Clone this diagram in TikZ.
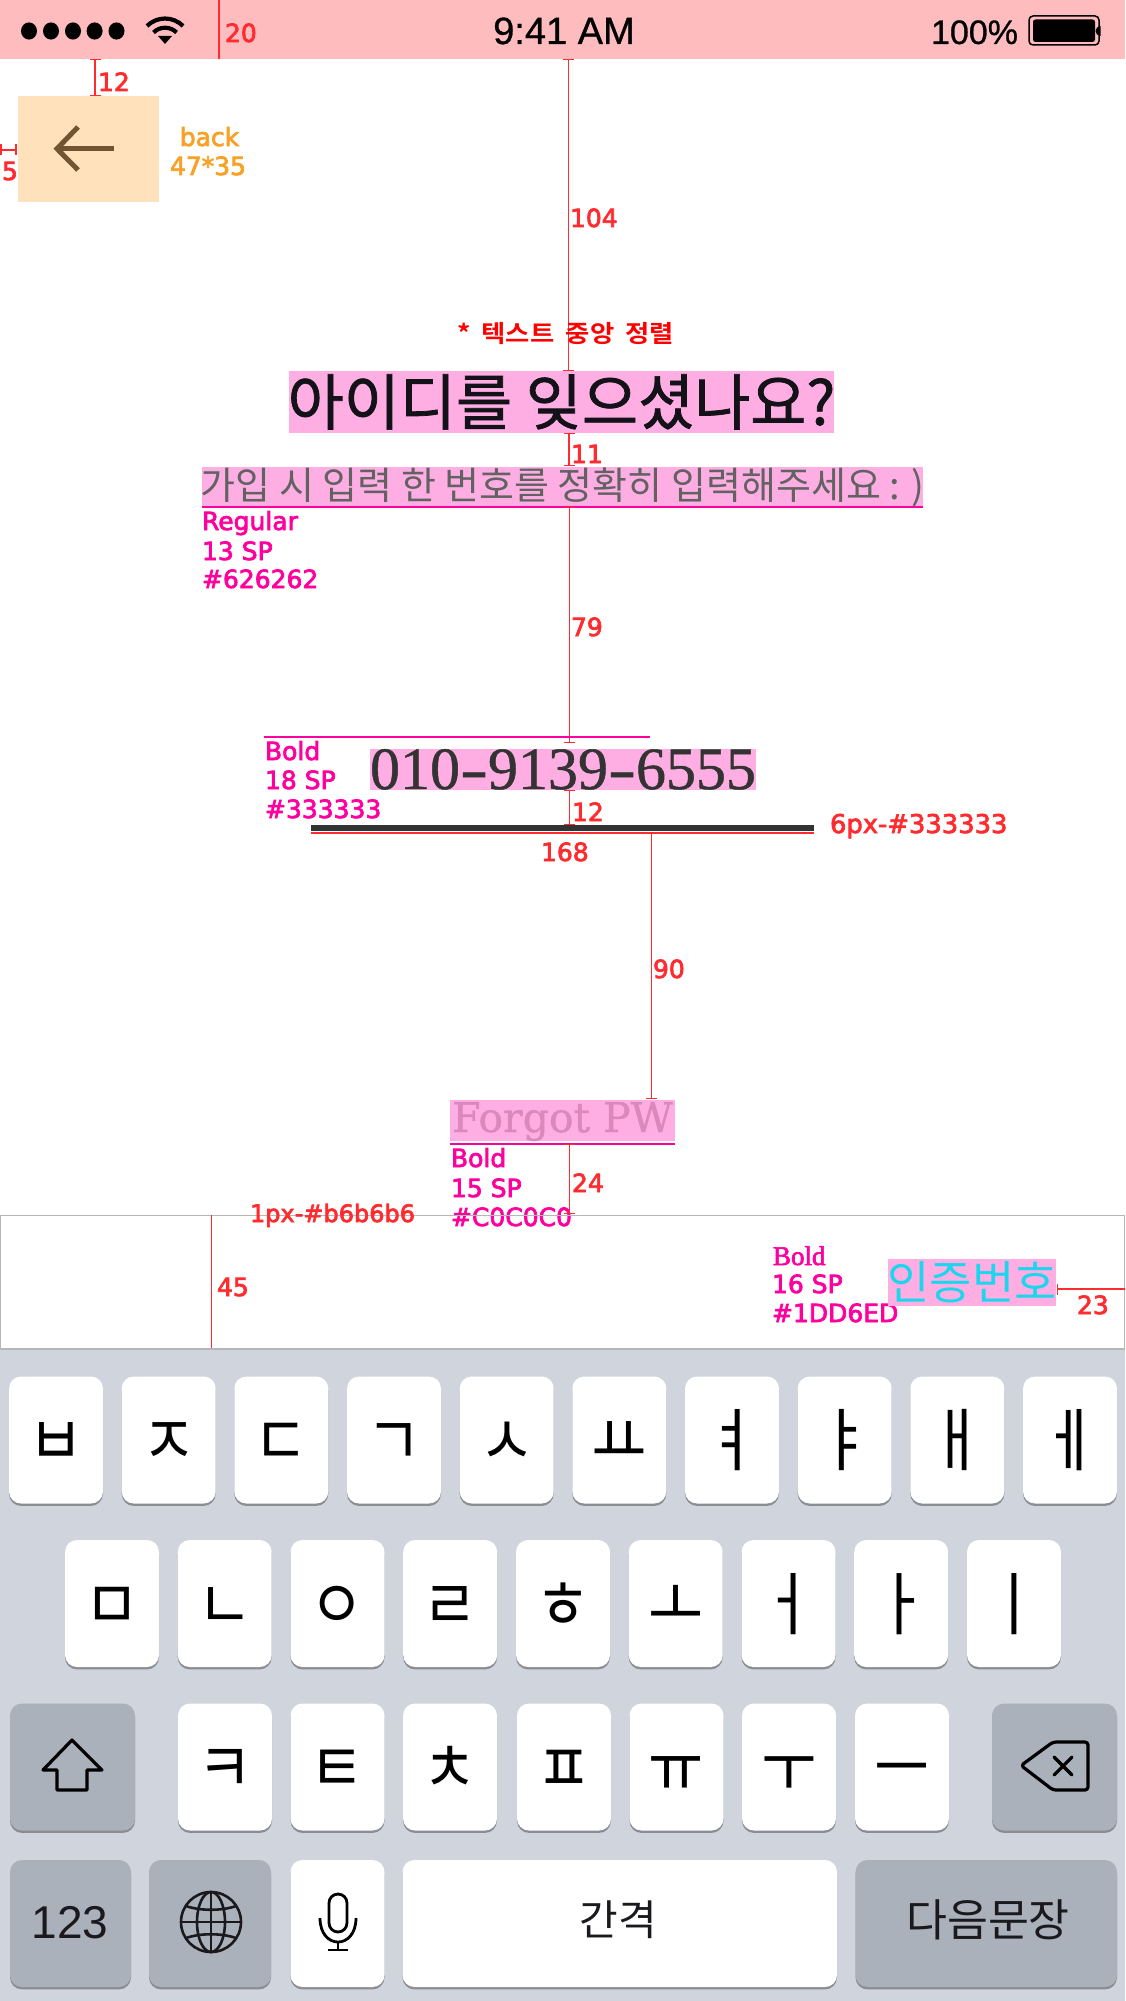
\documentclass[tikz,border=0pt]{standalone}
\usepackage{fontspec}
\usepackage{graphicx}
\usetikzlibrary{arrows.meta}
\newfontfamily\lf[FakeBold=2.8]{DejaVu Sans}
\newfontfamily\lfs[FakeBold=2.4]{Liberation Serif}
\newfontfamily\kr{Noto Sans CJK KR}
\newfontfamily\krb[FakeBold=1.2]{Noto Sans CJK KR}
\newfontfamily\krB{Noto Sans CJK KR Bold}
\newfontfamily\ls{Liberation Sans}
\newfontfamily\lsb[FakeBold=0.8]{Liberation Sans}
\newfontfamily\sr[FakeBold=0.8]{Liberation Serif}
\newfontfamily\djs[FakeBold=1]{DejaVu Serif}
\newcommand{\fsz}[1]{\fontsize{#1pt}{#1pt}\selectfont}
\definecolor{dimred}{HTML}{FF2B2F}
\definecolor{specpink}{HTML}{FF009E}
\definecolor{hlpink}{HTML}{FFAEE4}
\definecolor{barpink}{HTML}{FFBCBF}
\definecolor{orangetxt}{HTML}{F9A125}
\definecolor{backbox}{HTML}{FFE2BC}
\definecolor{arrowbrown}{HTML}{735331}
\definecolor{kbbg}{HTML}{D0D4DC}
\definecolor{darkkey}{HTML}{ABB1BB}
\definecolor{keyshadow}{HTML}{8A8D93}
\definecolor{linegray}{HTML}{B6B6B6}
\tikzset{
  every node/.style={inner sep=0pt,outer sep=0pt},
  dimline/.style={draw=dimred,line width=1.1pt},
  tickline/.style={dimline,{Bar[width=11pt,length=1.1pt]}-{Bar[width=11pt,length=1.1pt]}},
  ticktop/.style={dimline,{Bar[width=11pt,length=1.1pt]}-},
  redlab/.style={anchor=base west,text=dimred,font=\lf\fsz{25}},
  pinklab/.style={anchor=base west,text=specpink,font=\lf\fsz{25}},
  orangelab/.style={anchor=base,text=orangetxt,font=\lf\fsz{25}},
  hlbox/.style={fill=hlpink,anchor=north west},
  keyw/.style={fill=white,rounded corners=12pt,minimum width=94pt,minimum height=127pt,
     preaction={fill=keyshadow,transform canvas={yshift=-2.4pt}}},
  keyd/.style={fill=darkkey,rounded corners=12pt,minimum height=127pt,
     preaction={fill=keyshadow,transform canvas={yshift=-2.4pt}}},
  jamo/.style={font=\kr\fsz{69},text=black,text height=51pt,text depth=0pt},
  icon/.style={draw=black,line width=3.2pt,line join=round,line cap=round},
}
\begin{document}
\begin{tikzpicture}[x=1pt,y=-1pt]
\useasboundingbox (0,0) rectangle (1125,2001);
\fill[white] (0,0) rectangle (1125,2001);

% status bar
\node[fill=barpink,anchor=north west,minimum width=1125pt,minimum height=59pt] (status) at (0,0) {};
\foreach \x [count=\i] in {29,51,73,94.6,116.5}
  \fill[black] (\x,31) ellipse (8pt and 8.6pt);
\coordinate (wifi) at (165,44);
\fill (wifi) -- +(-7,-8) -- +(7,-8) -- cycle;
\draw[line width=4.2pt,black] (wifi) ++(-11.5,-11.5) arc[start angle=225,end angle=315,x radius=16.3pt,y radius=-16.3pt];
\draw[line width=4.2pt,black] (wifi) ++(-18,-18) arc[start angle=225,end angle=315,x radius=25.5pt,y radius=-25.5pt];
\node[anchor=base,font=\lsb\fsz{38},text=black] (clock) at (564,44) {9:41 AM};
\node[anchor=base east,font=\lsb\fsz{34},text=black] (pct) at (1018,44) {100\%};
\node[draw=black,line width=1.5pt,rounded corners=4pt,minimum width=70pt,minimum height=29pt,anchor=west] (batt) at (1029,30.5) {};
\fill[black,rounded corners=2.5pt] (1033,19.5) rectangle (1095,42);
\fill[black] (1100.5,26) arc[start angle=-90,end angle=90,radius=-5pt] -- cycle;
\coordinate (d20a) at (219,0); \coordinate (d20b) at (219,59);
\draw[dimline] (d20a) -- (d20b);
\node[redlab] (l20) at (225,42) {20};

% back
\node[fill=backbox,anchor=north west,minimum width=141pt,minimum height=106pt] (backb) at (18,96) {};
\draw[draw=arrowbrown,line width=5pt] (114,148.7) -- (58,148.7);
\draw[draw=arrowbrown,line width=5pt,line join=miter] (78,127) -- (57,148.7) -- (78,170);
\coordinate (d12a) at (95,59); \coordinate (d12b) at (95,96);
\draw[tickline] (d12a) -- (d12b);
\node[redlab] (l12) at (98,91) {12};
\coordinate (d5a) at (0.5,150); \coordinate (d5b) at (16.5,150);
\draw[tickline] (d5a) -- (d5b);
\node[redlab] (l5) at (2,180) {5};
\node[orangelab] (lback) at (209.5,146) {back};
\node[orangelab] (lsize) at (208,175) {47*35};

% center dim
\coordinate (d104a) at (568.5,59); \coordinate (d104b) at (568.5,371);
\draw[tickline] (d104a) -- (d104b);
\node[redlab] (l104) at (570,227) {104};
\node[anchor=base west,text=red,font=\krB\fsz{24}] (lcenter) at (457,342) {\scalebox{1.1}[1]{*\hspace{4.8pt} 텍스트\hspace{4.8pt} 중앙\hspace{4.8pt} 정렬}};

% title
\node[hlbox,minimum width=545pt,minimum height=62pt] (title) at (289,371) {};
\node[font=\krb\fsz{61},text={rgb,255:red,18;green,18;blue,24}] (titlet) at (561.5,402) {아이디를 잊으셨나요?};
\coordinate (d11a) at (569,433); \coordinate (d11b) at (569,466);
\draw[tickline] (d11a) -- (d11b);
\node[redlab] (l11) at (571,463) {11};

% subtitle
\node[hlbox,minimum width=721pt,minimum height=39pt] (sub) at (202,467) {};
\node[font=\kr\fsz{38},text={rgb,255:red,98;green,98;blue,98}] (subt) at (562.5,487) {가입 시 입력 한 번호를 정확히 입력해주세요 : )};
\coordinate (u1a) at (202,507); \coordinate (u1b) at (923,507);
\draw[draw=specpink,line width=1.1pt] (u1a) -- (u1b);
\node[pinklab] (s1a) at (202,530) {Regular};
\node[pinklab] (s1b) at (202,560) {13 SP};
\node[pinklab] (s1c) at (202,588) {\#626262};
\coordinate (d79a) at (569.5,506.5); \coordinate (d79b) at (569.5,743);
\draw[tickline] (d79a) -- (d79b);
\node[redlab] (l79) at (571,636) {79};

% phone
\coordinate (u2a) at (264,737); \coordinate (u2b) at (650,737);
\draw[draw=specpink,line width=1.1pt] (u2a) -- (u2b);
\node[pinklab] (s2a) at (265,760) {Bold};
\node[pinklab] (s2b) at (265,789) {18 SP};
\node[pinklab] (s2c) at (265,818) {\#333333};
\node[hlbox,minimum width=386pt,minimum height=41pt] (phone) at (370,749) {};
\node[anchor=base,font=\sr\fsz{60},text={rgb,255:red,51;green,51;blue,51}] (phonet) at (563,789) {010\scalebox{1.4}[1]{-}9139\scalebox{1.4}[1]{-}6555};
\coordinate (d12ca) at (569.5,790); \coordinate (d12cb) at (569.5,825);
\draw[tickline] (d12ca) -- (d12cb);
\node[redlab] (l12c) at (572,821) {12};
\node[fill={rgb,255:red,51;green,51;blue,51},anchor=north west,minimum width=503pt,minimum height=6pt] (bar) at (311,825) {};
\coordinate (r168a) at (311,833); \coordinate (r168b) at (814,833);
\draw[dimline] (r168a) -- (r168b);
\node[redlab] (l168) at (541,861) {168};
\node[redlab,font=\lf\fsz{25.8}] (l6px) at (830,833) {6px-\#333333};
\coordinate (d90a) at (651.5,832); \coordinate (d90b) at (651.5,1099);
\draw[tickline] (d90a) -- (d90b);
\node[redlab] (l90) at (653,978) {90};

% Forgot PW
\node[hlbox,minimum width=225pt,minimum height=41pt] (fpw) at (450,1100) {};
\node[anchor=base,font=\djs\fsz{41},text={rgb,255:red,219;green,136;blue,188}] (fpwt) at (562.5,1132) {Forgot PW};
\coordinate (u3a) at (450,1144); \coordinate (u3b) at (675,1144);
\draw[draw=specpink,line width=1.1pt] (u3a) -- (u3b);
\node[pinklab] (s3a) at (451,1167) {Bold};
\node[pinklab] (s3b) at (451,1197) {15 SP};
\node[pinklab] (s3c) at (451,1226) {\#C0C0C0};
\coordinate (d24a) at (569.5,1144); \coordinate (d24b) at (569.5,1214);
\draw[tickline] (d24a) -- (d24b);
\node[redlab] (l24) at (572,1192) {24};

% input strip
\node[draw=linegray,line width=1pt,anchor=north west,minimum width=1124pt,minimum height=133pt] (strip) at (0.5,1215) {};
\node[redlab,font=\lf\fsz{24}] (l1px) at (250,1222) {1px-\#b6b6b6};
\coordinate (d45a) at (211.5,1215); \coordinate (d45b) at (211.5,1348);
\draw[dimline] (d45a) -- (d45b);
\node[redlab] (l45) at (217,1296) {45};
\node[anchor=base west,text=specpink,font=\lfs\fsz{27}] (s4a) at (773,1265) {Bold};
\node[pinklab] (s4b) at (772,1293) {16 SP};
\node[pinklab] (s4c) at (772,1322) {\#1DD6ED};
\node[hlbox,minimum width=168pt,minimum height=47pt] (cert) at (888,1259) {};
\node[font=\kr\fsz{46},text={rgb,255:red,29;green,214;blue,237}] (certt) at (972,1282) {인증번호};
\coordinate (d23a) at (1056.5,1289); \coordinate (d23b) at (1125,1289);
\draw[ticktop] (d23a) -- (d23b);
\node[redlab] (l23) at (1077,1314) {23};

% keyboard
\node[fill=kbbg,anchor=north west,minimum width=1125pt,minimum height=652pt] (kb) at (0,1349) {};
\draw[linegray,line width=2pt] (0,1348.5) -- (1125,1348.5);
\foreach \x/\g [count=\i] in {56/ㅂ,168.7/ㅈ,281.3/ㄷ,394/ㄱ,506.7/ㅅ,619.3/ㅛ,732/ㅕ,844.7/ㅑ,957.3/ㅐ,1070/ㅔ}
  \node[keyw,jamo] (ra\i) at (\x,1440) {\scalebox{0.87}[1]{\g}};
\foreach \x/\g [count=\i] in {112/ㅁ,224.7/ㄴ,337.5/ㅇ,450.2/ㄹ,563/ㅎ,675.7/ㅗ,788.5/ㅓ,901.2/ㅏ,1014/ㅣ}
  \node[keyw,jamo] (rb\i) at (\x,1603.5) {\scalebox{0.87}[1]{\g}};
\foreach \x/\g [count=\i] in {225/ㅋ,337.5/ㅌ,450/ㅊ,564/ㅍ,676.5/ㅠ,789/ㅜ,902/ㅡ}
  \node[keyw,jamo] (rc\i) at (\x,1767) {\scalebox{0.87}[1]{\g}};
\node[keyd,minimum width=125pt] (shift) at (72.5,1767) {};
\node[keyd,minimum width=125pt] (bksp) at (1054.5,1767) {};
\node[keyd,minimum width=121pt] (num) at (70.5,1923.5) {};
\node[keyd,minimum width=122pt] (globe) at (210,1923.5) {};
\node[keyw] (mic) at (337.5,1923.5) {};
\node[keyw,minimum width=434.5pt] (space) at (619.75,1923.5) {};
\node[keyd,minimum width=261.5pt] (next) at (986.25,1923.5) {};
\node[font=\ls\fsz{46},text={rgb,255:red,25;green,25;blue,30}] (numt) at (70,1923) {123};
\node[font=\kr\fsz{42},text={rgb,255:red,25;green,25;blue,30}] (spacet) at (618,1920) {간격};
\node[font=\kr\fsz{44.5},text={rgb,255:red,25;green,25;blue,30}] (nextt) at (988,1920) {다음문장};
% shift icon
\draw[icon] (72,1740) -- (102,1770) -- (87,1770) -- (87,1790) -- (57,1790) -- (57,1770) -- (43,1770) -- cycle;
% backspace icon
\draw[icon,rounded corners=3pt] (1021,1765.5) -- (1053,1742) -- (1088,1742) -- (1088,1790) -- (1053,1790) -- cycle;
\draw[icon] (1054,1757) -- (1072,1775) (1072,1757) -- (1054,1775);
% globe icon
\begin{scope}[line width=2.6pt,draw={rgb,255:red,25;green,25;blue,30}]
\draw (211,1922) circle (30pt);
\draw (211,1922) ellipse (14pt and 30pt);
\draw (181,1922) -- (241,1922) (211,1892) -- (211,1952);
\draw (186,1906) .. controls (200,1911) and (222,1911) .. (236,1906);
\draw (186,1938) .. controls (200,1933) and (222,1933) .. (236,1938);
\end{scope}
% mic icon
\begin{scope}[line width=2.8pt,draw=black]
\draw[rounded corners=9pt] (329,1894) rectangle (347,1932);
\draw (320,1918) .. controls (320,1950) and (356,1950) .. (356,1918);
\draw (338,1942) -- (338,1950) (328,1950) -- (348,1950);
\end{scope}
\end{tikzpicture}
\end{document}
